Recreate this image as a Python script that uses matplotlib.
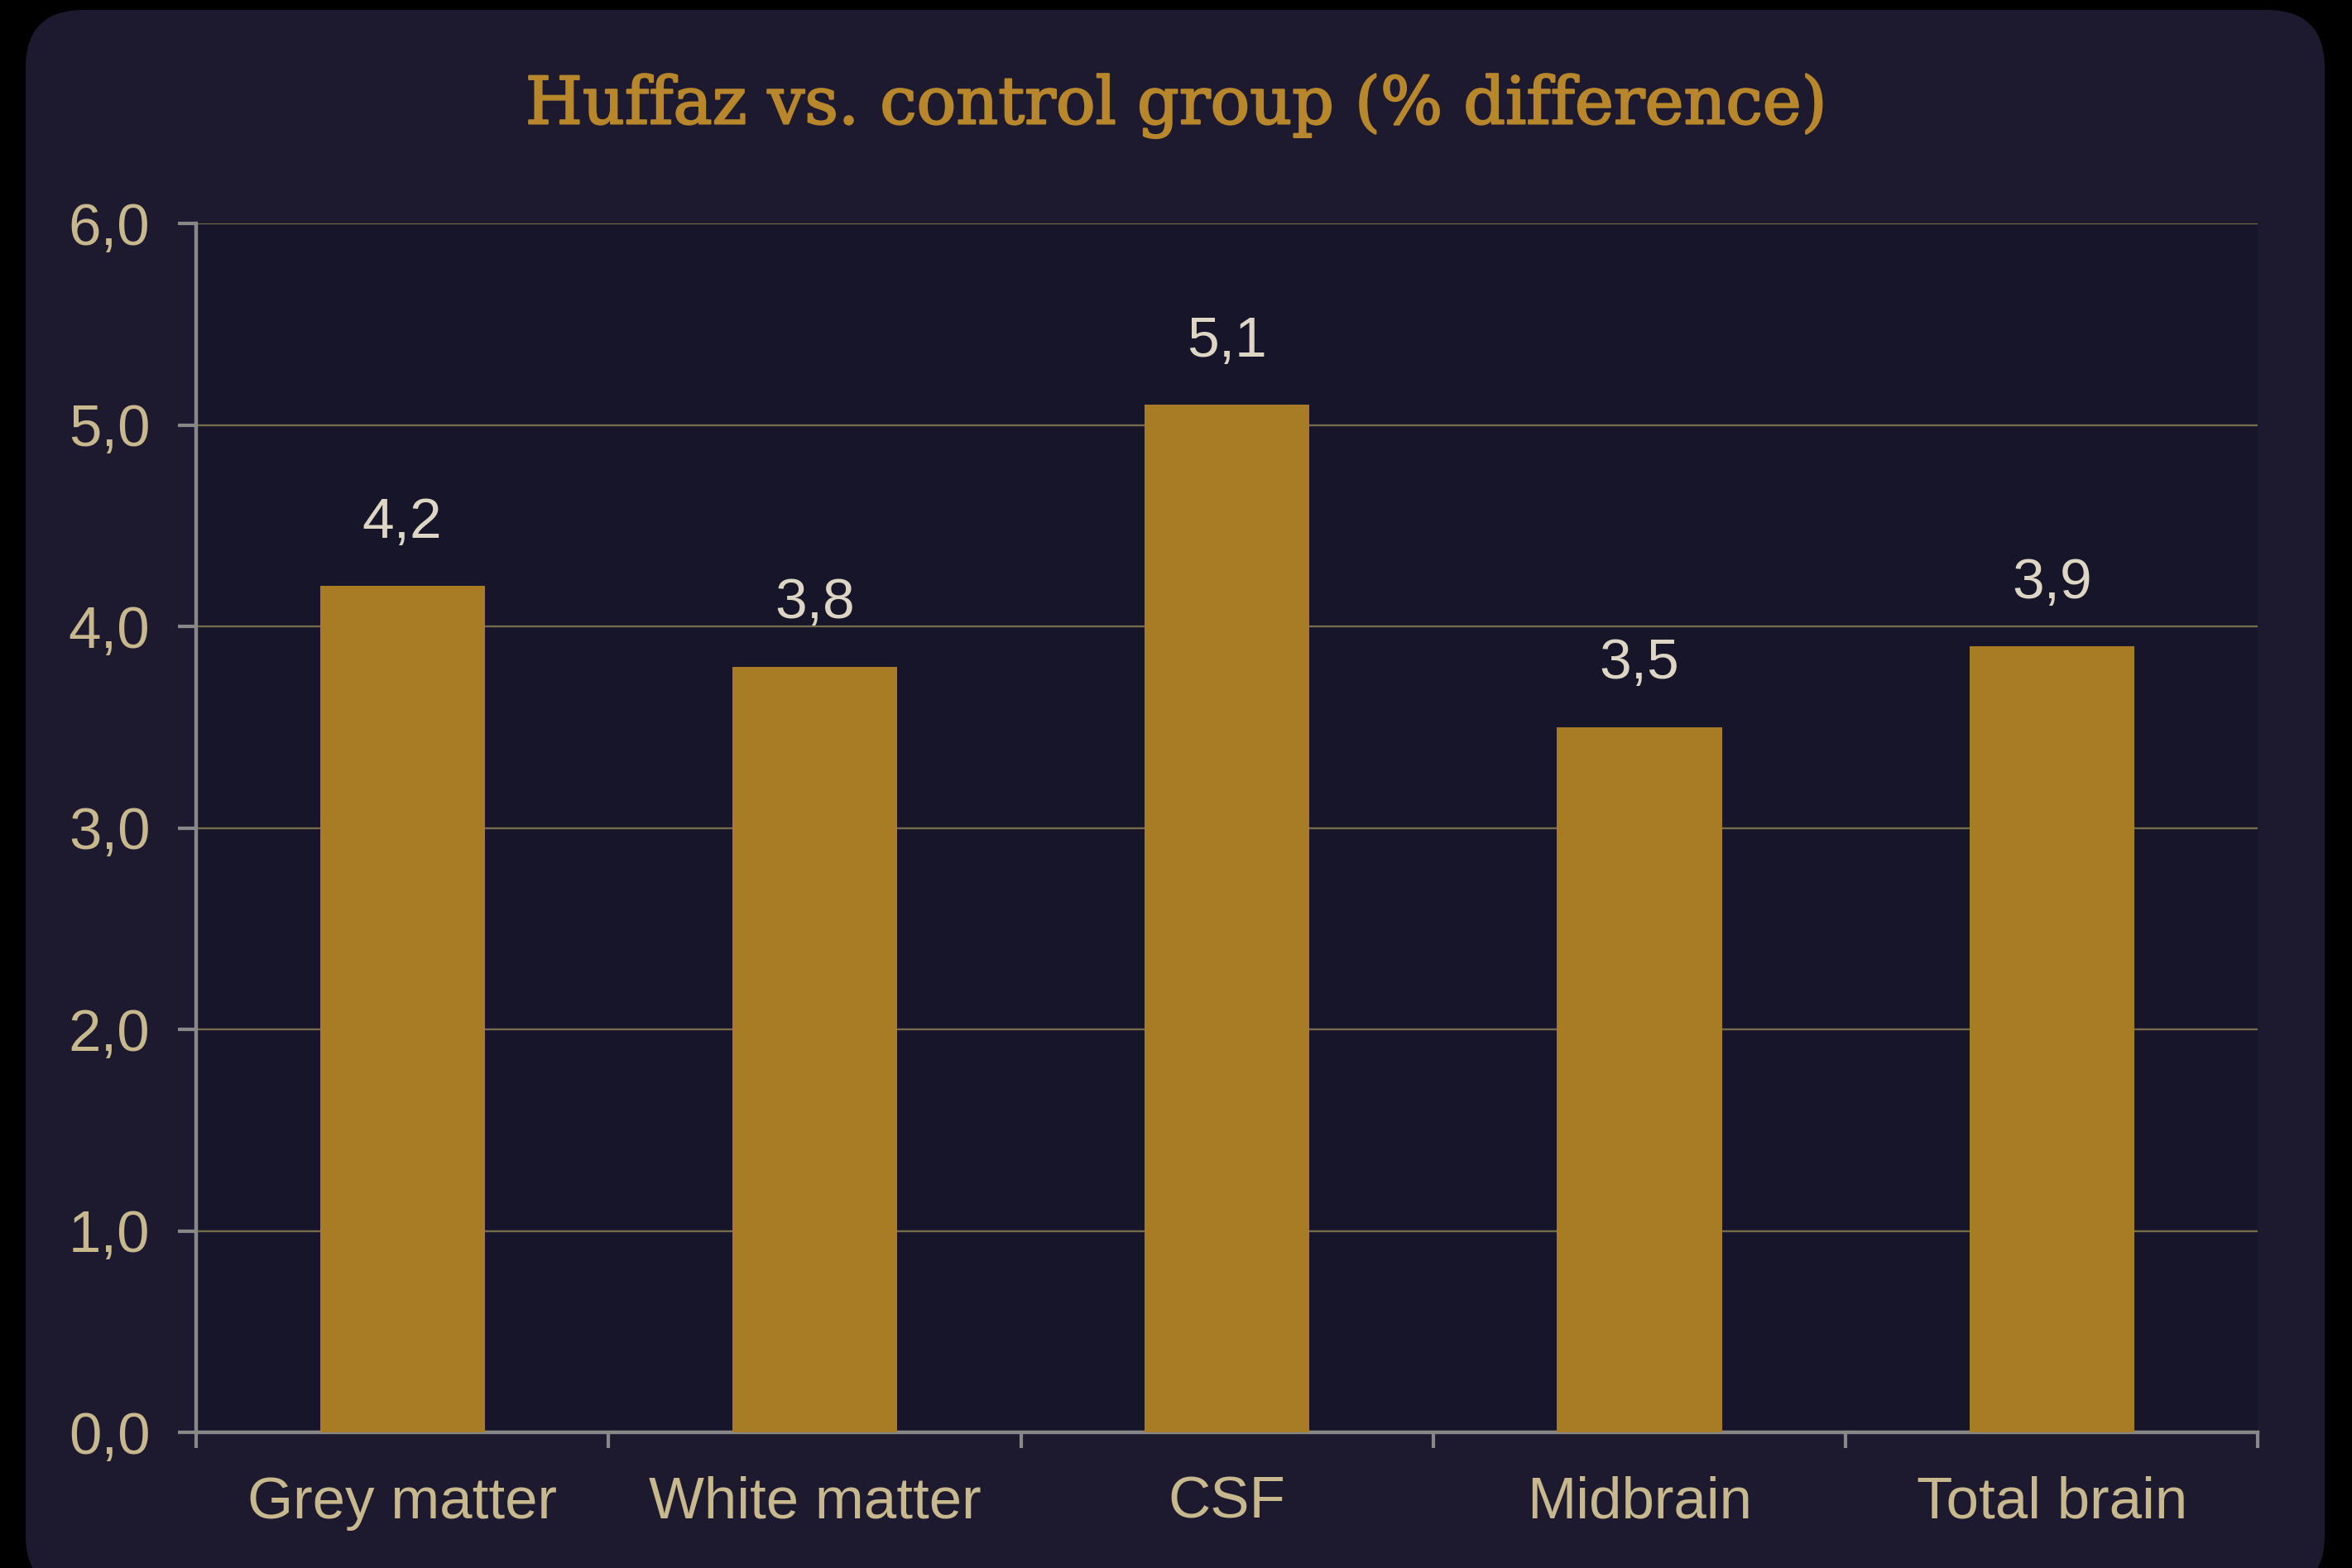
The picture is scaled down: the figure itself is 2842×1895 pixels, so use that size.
import matplotlib
matplotlib.use("Agg")
import matplotlib.pyplot as plt
import matplotlib.patheffects as pe
from matplotlib.patches import FancyBboxPatch
from matplotlib.ticker import FuncFormatter, FixedLocator

# data
categories = ["Grey matter", "White matter", "CSF", "Midbrain", "Total brain"]
values = [4.2, 3.8, 5.1, 3.5, 3.9]
y_ticks = [0, 1, 2, 3, 4, 5, 6]
title = "Huffaz vs. control group (% difference)"

BG = "#000000"
PANEL = "#1d1a30"
PLOT_BG = "#17152a"
BAR = "#a87b25"
GRID = "#736b4a"
SPINE = "#888888"
TICK_TXT = "#c8b88e"
VALUE_TXT = "#ddd6c4"
TITLE_TXT = "#b8872b"


def comma(v, pos=None):
    return f"{v:.1f}".replace(".", ",")


def main():
    fig = plt.figure(figsize=(28.42, 18.95), dpi=100, facecolor=BG)

    # rounded dark panel behind everything (in inches)
    panel = FancyBboxPatch((0.31, -0.3), 27.78, 19.13,
                           boxstyle="round,pad=0,rounding_size=0.7",
                           transform=fig.dpi_scale_trans,
                           facecolor=PANEL, edgecolor="none", zorder=-10)
    fig.patches.append(panel)

    ax = fig.add_axes([0.0834, 0.0865, 0.8766, 0.771])
    ax.set_facecolor(PLOT_BG)

    x = list(range(len(categories)))
    ax.bar(x, values, width=0.40, color=BAR, zorder=3)

    for xi, v in zip(x, values):
        ax.annotate(comma(v), (xi, v), xytext=(0, 32), textcoords="offset points",
                    ha="center", va="bottom", fontsize=50, color=VALUE_TXT,
                    family="Liberation Sans")

    ax.set_xlim(-0.5, len(categories) - 0.5)
    ax.set_ylim(0, 6)

    ax.set_yticks(y_ticks)
    ax.yaxis.set_major_formatter(FuncFormatter(comma))
    ax.yaxis.grid(True, color=GRID, linewidth=1.7, zorder=0)
    ax.set_axisbelow(True)

    # ticks on category boundaries, labels centred under bars
    ax.xaxis.set_major_locator(FixedLocator([i - 0.5 for i in range(len(categories) + 1)]))
    ax.xaxis.set_major_formatter(FuncFormatter(lambda v, p: ""))
    ax.xaxis.set_minor_locator(FixedLocator(x))
    ax.set_xticklabels(categories, minor=True)
    ax.tick_params(axis="x", which="major", direction="out", length=14, width=3, color=SPINE)
    ax.tick_params(axis="x", which="minor", length=0, pad=38, labelsize=51, labelcolor=TICK_TXT)
    ax.tick_params(axis="y", direction="out", length=16, width=3, color=SPINE,
                   pad=24, labelsize=51, labelcolor=TICK_TXT)
    for lab in ax.get_xticklabels(minor=True) + ax.get_yticklabels():
        lab.set_family("Liberation Sans")

    for side in ("top", "right"):
        ax.spines[side].set_visible(False)
    for side in ("left", "bottom"):
        ax.spines[side].set_color(SPINE)
        ax.spines[side].set_linewidth(3.2)

    t = fig.text(0.5, 1 - 128 / 1895, title, ha="center", va="center",
                 fontsize=57, color=TITLE_TXT, family="DejaVu Serif")
    t.set_path_effects([pe.withStroke(linewidth=1.6, foreground=TITLE_TXT)])

    fig.savefig("out.png", dpi=100, facecolor=BG)


if __name__ == "__main__":
    main()
